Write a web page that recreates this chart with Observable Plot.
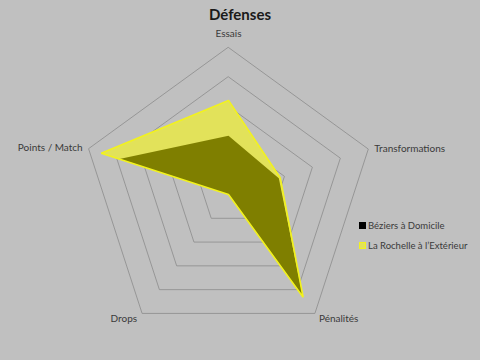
<!DOCTYPE html>
<html><head><meta charset="utf-8">
<script src="https://cdn.jsdelivr.net/npm/d3@7"></script>
<script src="https://cdn.jsdelivr.net/npm/@observablehq/plot@0.6"></script>
<style>
html,body{margin:0;padding:0;background:#c0c0c0;}
#wrap{position:relative;width:480px;height:360px;overflow:hidden;font-family:Lato,"Open Sans",sans-serif;}
#chart{position:absolute;left:0;top:0;}
#title{position:absolute;left:0;top:5px;width:480px;text-align:center;font-weight:bold;font-size:15px;color:#1a1a1a;}
#legend{position:absolute;left:359px;top:216px;font-size:9.5px;color:#3a3a3a;}
#legend div{display:flex;align-items:center;height:19.5px;}
#legend span.sw{display:inline-block;width:7px;height:7px;margin-right:2px;box-sizing:border-box;}
</style></head>
<body><div id="wrap"><div id="chart"></div><div id="title">Défenses</div><div id="legend"></div></div>
<script>
// ---- data ----
const axes = ["Essais", "Transformations", "Pénalités", "Drops", "Points / Match"];
const seriesNames = ["Béziers à Domicile", "La Rochelle à l’Extérieur"];
const beziers = [2.0, 1.8, 4.3, 0, 3.9];
const laRochelle = [3.2, 1.85, 4.32, 0, 4.55];
const rings = [1, 2, 3, 4, 5];
const maxValue = 5;

// ---- build tables ----
const n = axes.length;
const ang = i => (2 * Math.PI * i) / n;
const toXY = (v, i) => ({x: v * Math.sin(ang(i)), y: v * Math.cos(ang(i))});

const ringPts = rings.flatMap(r => axes.map((a, i) => ({ring: r, ...toXY(r, i)})));
const polyB = beziers.map((v, i) => ({axis: axes[i], ...toXY(v, i)}));
const polyR = laRochelle.map((v, i) => ({axis: axes[i], ...toXY(v, i)}));
const labelPts = axes.map((a, i) => ({label: a, ...toXY(maxValue, i)}));

const labelStyle = [
  {textAnchor: "middle", dx: 0, dy: -14},
  {textAnchor: "start", dx: 6, dy: 0},
  {textAnchor: "start", dx: 4, dy: 5},
  {textAnchor: "end", dx: -5, dy: 5},
  {textAnchor: "end", dx: -6, dy: -1}
];

const chart = Plot.plot({
  width: 480, height: 360,
  marginLeft: 81, marginRight: 105, marginTop: 47, marginBottom: 19,
  x: {domain: [-maxValue, maxValue], axis: null},
  y: {domain: [-maxValue, maxValue], axis: null},
  style: {background: "transparent", fontFamily: "Lato, 'Open Sans', sans-serif"},
  marks: [
    Plot.line(ringPts, {x: "x", y: "y", z: "ring", curve: "linear-closed", stroke: "#8c8c8c", strokeWidth: 0.8}),
    Plot.line(polyR, {x: "x", y: "y", curve: "linear-closed", fill: "#e2e25a", stroke: "none"}),
    Plot.line(polyB, {x: "x", y: "y", curve: "linear-closed", fill: "#7f7f00", stroke: "none"}),
    Plot.line(polyR, {x: "x", y: "y", curve: "linear-closed", stroke: "#f2f21e", strokeWidth: 1.6, strokeLinejoin: "miter"}),
    ...labelPts.map((d, i) => Plot.text([d], {x: "x", y: "y", text: "label", fontSize: 10, fill: "#3a3a3a", ...labelStyle[i]}))
  ]
});
document.getElementById("chart").appendChild(chart);

const swatches = [
  {background: "#000", border: "none"},
  {background: "#e2e25a", border: "1.5px solid #f2f21e"}
];
const leg = document.getElementById("legend");
seriesNames.forEach((s, i) => {
  const row = document.createElement("div");
  const sw = document.createElement("span");
  sw.className = "sw";
  sw.style.background = swatches[i].background;
  sw.style.border = swatches[i].border;
  row.appendChild(sw);
  row.appendChild(document.createTextNode(s));
  leg.appendChild(row);
});
</script></body></html>
